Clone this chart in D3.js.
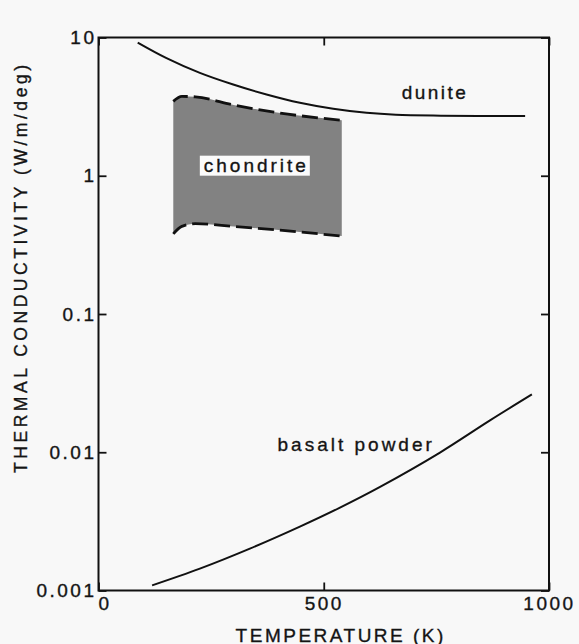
<!DOCTYPE html>
<html>
<head>
<meta charset="utf-8">
<script src="https://d3js.org/d3.v7.min.js"></script>
<style>
  body { margin: 0; background: #f8f8f8; }
  text { font-family: "Liberation Sans", Arial, sans-serif; fill: #141414; stroke: #141414; stroke-width: 0.35px; }
</style>
</head>
<body>
<div id="chart-area"></div>
<script>
// dunite curve (temperature K, conductivity W/m/deg)
const duniteTemp = [87, 151, 225, 299, 373, 447, 521, 595, 660, 760, 947];
const duniteK    = [9.2, 7.1, 5.55, 4.57, 3.87, 3.37, 3.05, 2.85, 2.76, 2.72, 2.70];

// chondrite band, upper and lower bound
const chondriteTemp = [166, 185, 215, 300, 400, 540];
const chondriteHigh = [3.45, 3.75, 3.72, 3.25, 2.85, 2.52];
const chondriteLow  = [0.38, 0.43, 0.45, 0.43, 0.405, 0.366];

// basalt powder curve
const basaltTemp = [119, 225, 336, 447, 536, 625, 758, 869, 962];
const basaltK    = [0.00109, 0.00144, 0.00201, 0.0029, 0.00398, 0.00562, 0.00995, 0.017, 0.0262];

// ticks
const xTicks = [0, 500, 1000];
const yTicks = [10, 1, 0.1, 0.01, 0.001];
const yTickLabels = ["10", "1", "0.1", "0.01", "0.001"];

// set the dimensions and margins of the graph
const margin = {top: 37.5, right: 30, bottom: 53.5, left: 98.5},
    width = 579 - margin.left - margin.right,
    height = 644 - margin.top - margin.bottom;

const root = d3.select("#chart-area")
  .append("svg")
    .attr("width", width + margin.left + margin.right)
    .attr("height", height + margin.top + margin.bottom);

// halftone-ish fill for the chondrite band
const pat = root.append("defs").append("pattern")
    .attr("id", "dots")
    .attr("width", 2).attr("height", 2)
    .attr("patternUnits", "userSpaceOnUse");
pat.append("rect").attr("width", 2).attr("height", 2).attr("fill", "#a0a0a0");
pat.append("rect").attr("width", 1).attr("height", 1).attr("fill", "#646464");
pat.append("rect").attr("x", 1).attr("y", 1).attr("width", 1).attr("height", 1).attr("fill", "#646464");

const svg = root.append("g")
    .attr("transform", `translate(${margin.left}, ${margin.top})`);

const x = d3.scaleLinear()
  .domain([0, 1000])
  .range([0, width]);

const y = d3.scaleLog()
  .domain([0.001, 10])
  .range([height, 0]);

// chondrite band
const chondrite = chondriteTemp.map((t, i) => ({t: t, lo: chondriteLow[i], hi: chondriteHigh[i]}));

svg.append("path")
  .datum(chondrite)
  .attr("fill", "url(#dots)")
  .attr("d", d3.area()
    .x(d => x(d.t))
    .y0(d => y(d.lo))
    .y1(d => y(d.hi))
    .curve(d3.curveMonotoneX));

["hi", "lo"].forEach(function(k) {
  svg.append("path")
    .datum(chondrite)
    .attr("fill", "none")
    .attr("stroke", "#111")
    .attr("stroke-width", 2.8)
    .attr("stroke-dasharray", "16,6")
    .attr("d", d3.line()
      .x(d => x(d.t))
      .y(d => y(d[k]))
      .curve(d3.curveMonotoneX));
});

// solid curves
const line = d3.line()
  .x(d => x(d[0]))
  .y(d => y(d[1]))
  .curve(d3.curveCatmullRom);

svg.append("path")
  .datum(d3.zip(duniteTemp, duniteK))
  .attr("fill", "none")
  .attr("stroke", "#111")
  .attr("stroke-width", 2)
  .attr("d", line);

svg.append("path")
  .datum(d3.zip(basaltTemp, basaltK))
  .attr("fill", "none")
  .attr("stroke", "#111")
  .attr("stroke-width", 2)
  .attr("d", line);

// axes, ticks pointing inward
const tickFont = g => g.selectAll("text")
  .style("font-size", "19px")
  .style("letter-spacing", "2.5px")
  .attr("fill", "#141414");

svg.append("g")
  .attr("transform", `translate(0, ${height})`)
  .call(d3.axisBottom(x).tickValues(xTicks).tickSizeInner(-8).tickSizeOuter(0).tickPadding(6)
    .tickFormat(d3.format("d")))
  .call(tickFont)
  .call(g => g.selectAll("text").attr("dx", (d, i) => i === 0 ? "6px" : "0px"));

svg.append("g")
  .call(d3.axisTop(x).tickValues(xTicks).tickSizeInner(-8).tickSizeOuter(0).tickFormat(""));

svg.append("g")
  .call(d3.axisLeft(y).tickValues(yTicks).tickSizeInner(-8).tickSizeOuter(0).tickPadding(2)
    .tickFormat((d, i) => yTickLabels[i]))
  .call(tickFont);

svg.append("g")
  .attr("transform", `translate(${width}, 0)`)
  .call(d3.axisRight(y).tickValues(yTicks).tickSizeInner(-8).tickSizeOuter(0).tickFormat(""));

svg.selectAll(".domain").remove();
svg.selectAll(".tick line").attr("stroke", "#111").attr("stroke-width", 1.8);
svg.selectAll("text").attr("font-family", null);

// frame
svg.append("rect")
  .attr("width", width)
  .attr("height", height)
  .attr("fill", "none")
  .attr("stroke", "#111")
  .attr("stroke-width", 2);

// curve labels
svg.append("text")
  .attr("x", x(747)).attr("y", y(3.59))
  .attr("text-anchor", "middle")
  .style("font-size", "19px").style("letter-spacing", "2.5px")
  .text("dunite");

const chondriteLabel = svg.append("g")
  .attr("transform", `translate(${x(347)}, ${y(1.07)})`);
chondriteLabel.append("rect")
  .attr("x", -55).attr("y", -16)
  .attr("width", 110).attr("height", 20)
  .attr("fill", "#fbfbfb")
  .attr("stroke", "none");
chondriteLabel.append("text")
  .attr("text-anchor", "middle")
  .attr("dx", "1.5px")
  .style("font-size", "19px").style("letter-spacing", "3px")
  .text("chondrite");

svg.append("text")
  .attr("x", x(572)).attr("y", y(0.0102))
  .attr("text-anchor", "middle")
  .style("font-size", "19px").style("letter-spacing", "3px")
  .text("basalt powder");

// axis titles
svg.append("text")
  .attr("x", width / 2 + 17)
  .attr("y", height + 51)
  .attr("text-anchor", "middle")
  .style("font-size", "19px").style("letter-spacing", "2.5px")
  .text("TEMPERATURE (K)");

svg.append("text")
  .attr("transform", "rotate(-90)")
  .attr("x", -(473 - margin.top))
  .attr("y", -71.5)
  .attr("text-anchor", "start")
  .attr("textLength", 408)
  .attr("lengthAdjust", "spacing")
  .style("font-size", "17.5px")
  .text("THERMAL CONDUCTIVITY (W/m/deg)");
</script>
</body>
</html>
